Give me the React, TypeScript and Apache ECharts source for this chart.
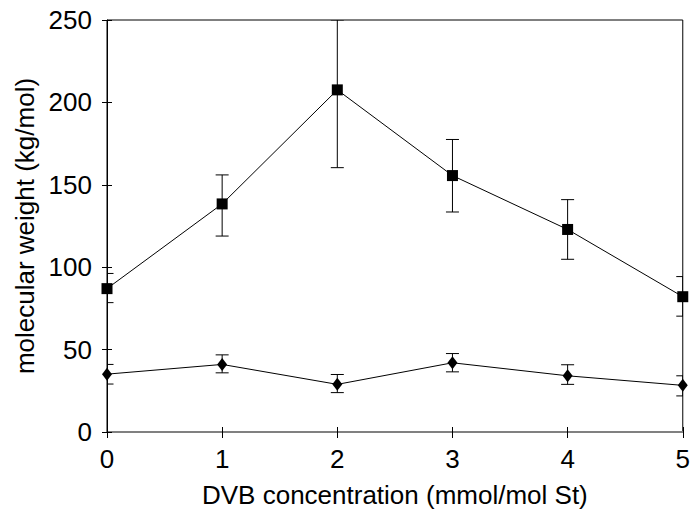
import React, { useEffect, useRef } from "react";
import * as echarts from "echarts";

const xValues = [0, 1, 2, 3, 4, 5];
const squareMean = [87, 138.4, 207.6, 155.6, 122.9, 82.1];
const squareLow = [78.5, 118.9, 160.4, 133.5, 104.8, 70.3];
const squareHigh = [96.2, 156, 250, 177.5, 141, 94.3];
const diamondMean = [35.1, 41, 28.9, 42, 34.1, 28.3];
const diamondLow = [29.1, 35.9, 23.9, 36.5, 28.9, 21.9];
const diamondHigh = [41, 46.8, 34.9, 47.6, 40.8, 34.1];

const FONT = "Liberation Sans, Arial, Helvetica, sans-serif";

function errorSeries(low: number[], high: number[]) {
  return {
    type: "custom",
    xAxisIndex: 0,
    yAxisIndex: 0,
    clip: true,
    z: 3,
    data: xValues.map((x, i) => [x, low[i], high[i]]),
    renderItem: (params: any, api: any) => {
      const x = api.value(0);
      const lo = api.coord([x, api.value(1)]);
      const hi = api.coord([x, api.value(2)]);
      const cap = 6.5;
      const style = { stroke: "#000", lineWidth: 1 };
      return {
        type: "group",
        children: [
          { type: "line", shape: { x1: lo[0], y1: lo[1], x2: hi[0], y2: hi[1] }, style },
          { type: "line", shape: { x1: lo[0] - cap, y1: lo[1], x2: lo[0] + cap, y2: lo[1] }, style },
          { type: "line", shape: { x1: hi[0] - cap, y1: hi[1], x2: hi[0] + cap, y2: hi[1] }, style },
        ],
      };
    },
  };
}

export default function App() {
  const ref = useRef<HTMLDivElement>(null);
  useEffect(() => {
    const chart = echarts.init(ref.current!, null, { renderer: "svg" });
    const grid = { left: 107, right: 8, top: 20, bottom: 79, show: true, borderColor: "#000", borderWidth: 1 };
    chart.setOption({
      animation: false,
      backgroundColor: "#fff",
      grid,
      xAxis: [
        {
          type: "value",
          min: 0,
          max: 5,
          interval: 1,
          name: "DVB concentration (mmol/mol St)",
          nameLocation: "middle",
          nameGap: 50,
          nameTextStyle: { fontFamily: FONT, fontSize: 26, color: "#000" },
          axisLine: { show: true, lineStyle: { color: "#808080", width: 2 } },
          axisTick: { show: true, length: 6, lineStyle: { color: "#000", width: 1 } },
          axisLabel: { fontFamily: FONT, fontSize: 26, color: "#000", margin: 14 },
          splitLine: { show: false },
        },
        {
          type: "value",
          min: 0,
          max: 5,
          interval: 1,
          position: "bottom",
          axisLine: { show: false },
          axisTick: { show: true, inside: true, length: 5, lineStyle: { color: "#000", width: 1 } },
          axisLabel: { show: false },
          splitLine: { show: false },
        },
      ],
      yAxis: [
        {
          type: "value",
          min: 0,
          max: 250,
          interval: 50,
          name: "molecular weight (kg/mol)",
          nameLocation: "middle",
          nameGap: 62,
          nameTextStyle: { fontFamily: FONT, fontSize: 26, color: "#000" },
          axisLine: { show: true, lineStyle: { color: "#000", width: 1 } },
          axisTick: { show: true, length: 5, lineStyle: { color: "#000", width: 1 } },
          axisLabel: { fontFamily: FONT, fontSize: 26, color: "#000", margin: 15 },
          splitLine: { show: false },
        },
        {
          type: "value",
          min: 0,
          max: 250,
          interval: 50,
          position: "left",
          axisLine: { show: false },
          axisTick: { show: true, inside: true, length: 5, lineStyle: { color: "#000", width: 1 } },
          axisLabel: { show: false },
          splitLine: { show: false },
        },
      ],
      series: [
        errorSeries(squareLow, squareHigh),
        errorSeries(diamondLow, diamondHigh),
        {
          type: "line",
          data: xValues.map((x, i) => [x, squareMean[i]]),
          symbol: "rect",
          symbolSize: 11,
          lineStyle: { color: "#000", width: 1 },
          itemStyle: { color: "#000" },
          z: 4,
        },
        {
          type: "line",
          data: xValues.map((x, i) => [x, diamondMean[i]]),
          symbol: "diamond",
          symbolSize: [10, 13],
          lineStyle: { color: "#000", width: 1 },
          itemStyle: { color: "#000" },
          z: 4,
        },
      ],
    });
    return () => chart.dispose();
  }, []);
  return <div ref={ref} style={{ width: 693, height: 513, position: "absolute", left: 0, top: 0 }} />;
}
